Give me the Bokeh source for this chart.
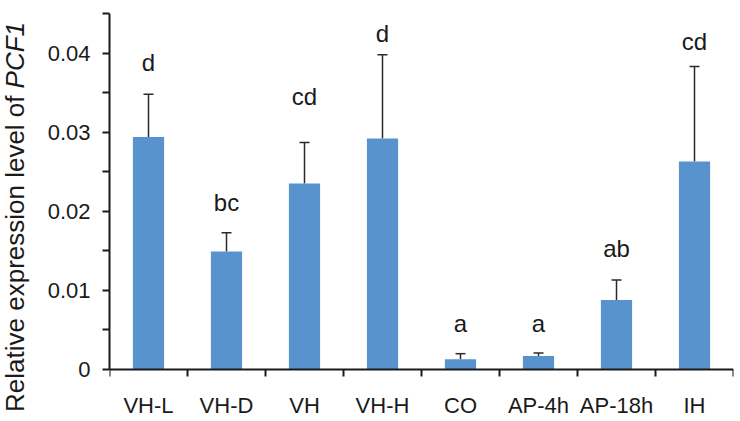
import math
from bokeh.plotting import figure
from bokeh.layouts import row
from bokeh.models import ColumnDataSource, Range1d, FixedTicker, Whisker, TeeHead
from bokeh.core.properties import value
from bokeh.embed import file_html
from bokeh.resources import INLINE

# ---- data ----
categories = ["VH-L", "VH-D", "VH", "VH-H", "CO", "AP-4h", "AP-18h", "IH"]
means = [0.0294, 0.0149, 0.0235, 0.0292, 0.0013, 0.0017, 0.0088, 0.0263]
errors = [0.0054, 0.0024, 0.0052, 0.0106, 0.0007, 0.0004, 0.0025, 0.0120]
letters = ["d", "bc", "cd", "d", "a", "a", "ab", "cd"]
letter_y = [0.0377, 0.0201, 0.0335, 0.0414, 0.0048, 0.0048, 0.0142, 0.0404]
y_ticks = [0.0, 0.01, 0.02, 0.03, 0.04]
y_tick_labels = ["0", "0.01", "0.02", "0.03", "0.04"]
y_minor_ticks = [0.005, 0.015, 0.025, 0.035, 0.045]
y_label_main = "Relative expression level of"
y_label_gene = "PCF1"

FONT = "Liberation Sans"
TXT = "#1a1a1a"
BAR = "#5893CE"
BASE_SHIFT = 0.35   # renderer places the alphabetic baseline ~0.35em below the anchor

W, H = 740, 421
LABEL_W = 36
TOP, ZERO_Y = 13, 369          # pixel rows of y=0.045 and y=0
Y_MAX = 0.045
px_per_unit = (ZERO_Y - TOP) / Y_MAX
y_min = -(H - ZERO_Y) / px_per_unit
tick_len = 7 / px_per_unit
xlabel_y = -44 / px_per_unit

n = len(categories)
x_pos = [i + 0.5 for i in range(n)]
upper = [m + e for m, e in zip(means, errors)]
src = ColumnDataSource(dict(x=x_pos, mean=means, upper=upper))

p = figure(width=W - LABEL_W, height=H, output_backend="svg", toolbar_location=None,
           x_range=Range1d(0, n), y_range=Range1d(y_min, Y_MAX),
           min_border_left=109 - LABEL_W, min_border_right=7, min_border_top=TOP,
           min_border_bottom=0)
p.outline_line_color = None
p.xgrid.visible = False
p.ygrid.visible = False
p.xaxis.visible = False

p.vbar(x="x", top="mean", width=0.4, source=src, fill_color=BAR, line_color=None)

wh = Whisker(source=src, base="x", upper="upper", lower="mean", dimension="height",
             line_color="#2b2b2b", line_width=1.5,
             upper_head=TeeHead(size=10, line_color="#2b2b2b", line_width=1.5),
             lower_head=None)
p.add_layout(wh)

p.text(x=x_pos, y=letter_y, text=letters, text_align="center", text_baseline="alphabetic",
       y_offset=-BASE_SHIFT * 24,
       text_font=value(FONT), text_font_size="24px", text_color=TXT)

# category axis drawn at y = 0: line, boundary ticks, labels
bounds = list(range(n + 1))
p.segment(x0=[0], y0=[0], x1=[n], y1=[0], line_color=TXT, line_width=2)
p.segment(x0=bounds, y0=[0] * len(bounds), x1=bounds, y1=[-tick_len] * len(bounds),
          line_color=TXT, line_width=2)
p.text(x=x_pos, y=[xlabel_y] * n, text=categories, text_align="center",
       text_baseline="alphabetic", y_offset=-BASE_SHIFT * 22,
       text_font=value(FONT), text_font_size="22px", text_color=TXT)

ya = p.yaxis[0]
ya.bounds = (0, Y_MAX)
ya.ticker = FixedTicker(ticks=y_ticks, minor_ticks=y_minor_ticks)
ya.major_label_overrides = {t: l for t, l in zip(y_ticks, y_tick_labels)}
ya.major_tick_out = 7
ya.major_tick_in = 0
ya.minor_tick_out = 7
ya.minor_tick_in = 0
ya.major_tick_line_width = 2
ya.minor_tick_line_width = 2
ya.major_tick_line_color = TXT
ya.minor_tick_line_color = TXT
ya.axis_line_width = 2
ya.axis_line_color = TXT
ya.major_label_text_font = FONT
ya.major_label_text_font_size = "22px"
ya.major_label_text_color = TXT
ya.major_label_standoff = 12

# rotated y-axis title (plain part + italic gene name) in a narrow side panel
LBL_SIZE = 26
lp = figure(width=LABEL_W, height=H, output_backend="svg", toolbar_location=None,
            x_range=Range1d(0, LABEL_W), y_range=Range1d(0, H),
            min_border=0, min_border_left=0, min_border_right=0,
            min_border_top=0, min_border_bottom=0)
lp.axis.visible = False
lp.grid.visible = False
lp.outline_line_color = None
join = 20 + 12.171 * LBL_SIZE          # where the plain part ends
gap = 0.278 * LBL_SIZE                 # one space
base_x = 24 - BASE_SHIFT * LBL_SIZE
lp.text(x=[base_x], y=[join], text=[y_label_main], angle=math.pi / 2,
        text_align="right", text_baseline="alphabetic", text_font=value(FONT),
        text_font_size=f"{LBL_SIZE}px", text_color=TXT)
lp.text(x=[base_x], y=[join + gap], text=[y_label_gene], angle=math.pi / 2,
        text_align="left", text_baseline="alphabetic", text_font=value(FONT),
        text_font_size=f"{LBL_SIZE}px", text_font_style="italic", text_color=TXT)

layout = row(lp, p, spacing=0)
open("out.html", "w").write(file_html(layout, INLINE))
